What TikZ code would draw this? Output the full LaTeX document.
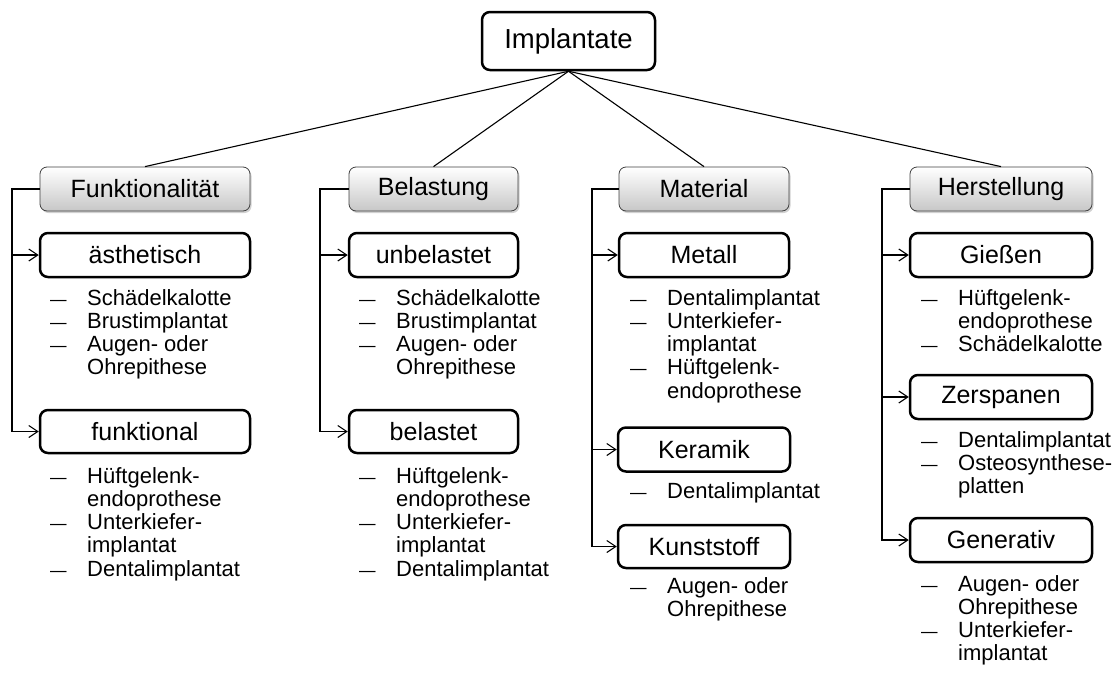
\documentclass[tikz,border=0pt]{standalone}
\usepackage{fontspec}
\setmainfont{Liberation Sans}
\usepackage{graphicx}
\usetikzlibrary{arrows.meta,shadows}

% bullet dash and two-column bullet list (dash | text)
\newcommand{\itemdash}{\scalebox{1.35}[0.8]{–}}
\newcommand{\itemlist}[1]{\begin{tabular}[t]{@{}p{37pt}@{}l@{}}#1\end{tabular}}

\begin{document}
\begin{tikzpicture}[x=1pt,y=-1pt,
  rootbox/.style={draw, line width=2.5pt, rounded corners=8pt, fill=white,
    inner sep=0pt, font=\fontsize{27.5}{30}\selectfont},
  catbox/.style={draw=black!75, line width=0.8pt, rounded corners=7pt,
    top color=white, bottom color=black!22, inner sep=0pt,
    drop shadow={shadow xshift=1.5pt, shadow yshift=-2pt, opacity=0.3, fill=black!60},
    font=\fontsize{25}{28}\selectfont},
  subbox/.style={draw, line width=2.5pt, rounded corners=8pt, fill=white,
    inner sep=0pt, font=\fontsize{25}{28}\selectfont},
  link/.style={line width=1.1pt},
  branch/.style={line width=1.4pt,
    -{Straight Barb[length=9pt,width=12pt,line width=1.1pt]}},
  items/.style={anchor=base west, inner sep=0pt,
    font=\fontsize{22}{23.3}\selectfont}
]
\useasboundingbox (0,0) rectangle (1119,672);

% root
\node[rootbox, minimum width=173pt, minimum height=58pt] (root) at (568.5,41) {Implantate};

% categories
\node[catbox, minimum width=210pt, minimum height=44pt] (fun) at (145,189) {Funktionalität};
\node[catbox, minimum width=169pt, minimum height=44pt] (bel) at (433.5,189) {Belastung};
\node[catbox, minimum width=170pt, minimum height=44pt] (mat) at (704,189) {Material};
\node[catbox, minimum width=182pt, minimum height=44pt] (her) at (1001,189) {Herstellung};

\foreach \c in {fun,bel,mat,her}
  \draw[link] (root.south) -- (\c.north);

% rails of the branch brackets
\coordinate (funx) at (12,0);
\coordinate (belx) at (320,0);
\coordinate (matx) at (592,0);
\coordinate (herx) at (882,0);

% Funktionalitaet
\node[subbox, minimum width=210pt, minimum height=44pt] (aest) at (145,255) {ästhetisch};
\node[subbox, minimum width=210pt, minimum height=43pt] (funk) at (145,431.5) {funktional};
\node[items] (laest) at (50,305) {\itemlist{\itemdash & Schädelkalotte\\ \itemdash & Brustimplantat\\ \itemdash & Augen- oder\\ & Ohrepithese}};
\node[items] (lfunk) at (50,483) {\itemlist{\itemdash & Hüftgelenk-\\ & endoprothese\\ \itemdash & Unterkiefer-\\ & implantat\\ \itemdash & Dentalimplantat}};

% Belastung
\node[subbox, minimum width=169pt, minimum height=44pt] (unbel) at (433.5,255) {unbelastet};
\node[subbox, minimum width=169pt, minimum height=43pt] (belas) at (433.5,431.5) {belastet};
\node[items] (lunbel) at (359,305) {\itemlist{\itemdash & Schädelkalotte\\ \itemdash & Brustimplantat\\ \itemdash & Augen- oder\\ & Ohrepithese}};
\node[items] (lbelas) at (359,483) {\itemlist{\itemdash & Hüftgelenk-\\ & endoprothese\\ \itemdash & Unterkiefer-\\ & implantat\\ \itemdash & Dentalimplantat}};

% Material
\node[subbox, minimum width=170pt, minimum height=44pt] (met) at (704,255) {Metall};
\node[subbox, minimum width=172pt, minimum height=44pt] (ker) at (704,449.5) {Keramik};
\node[subbox, minimum width=172pt, minimum height=43pt] (kun) at (704,546.5) {Kunststoff};
\node[items] (lmet) at (630,305) {\itemlist{\itemdash & Dentalimplantat\\ \itemdash & Unterkiefer-\\ & implantat\\ \itemdash & Hüftgelenk-\\ & endoprothese}};
\node[items] (lker) at (630,498) {\itemlist{\itemdash & Dentalimplantat}};
\node[items] (lkun) at (630,593) {\itemlist{\itemdash & Augen- oder\\ & Ohrepithese}};

% Herstellung
\node[subbox, minimum width=182pt, minimum height=44pt] (gie) at (1001,255) {Gießen};
\node[subbox, minimum width=182pt, minimum height=44pt] (zer) at (1001,397) {Zerspanen};
\node[subbox, minimum width=182pt, minimum height=44pt] (gen) at (1001,540) {Generativ};
\node[items] (lgie) at (921,305) {\itemlist{\itemdash & Hüftgelenk-\\ & endoprothese\\ \itemdash & Schädelkalotte}};
\node[items] (lzer) at (921,447) {\itemlist{\itemdash & Dentalimplantat\\ \itemdash & Osteosynthese-\\ & platten}};
\node[items] (lgen) at (921,591) {\itemlist{\itemdash & Augen- oder\\ & Ohrepithese\\ \itemdash & Unterkiefer-\\ & implantat}};

% bracket connectors
\foreach \p/\r/\k in {fun/funx/aest, fun/funx/funk,
                      bel/belx/unbel, bel/belx/belas,
                      mat/matx/met, mat/matx/ker, mat/matx/kun,
                      her/herx/gie, her/herx/zer, her/herx/gen}
  \draw[branch] (\p.west) -- (\p.west -| \r) |- (\k.west);
\end{tikzpicture}
\end{document}
